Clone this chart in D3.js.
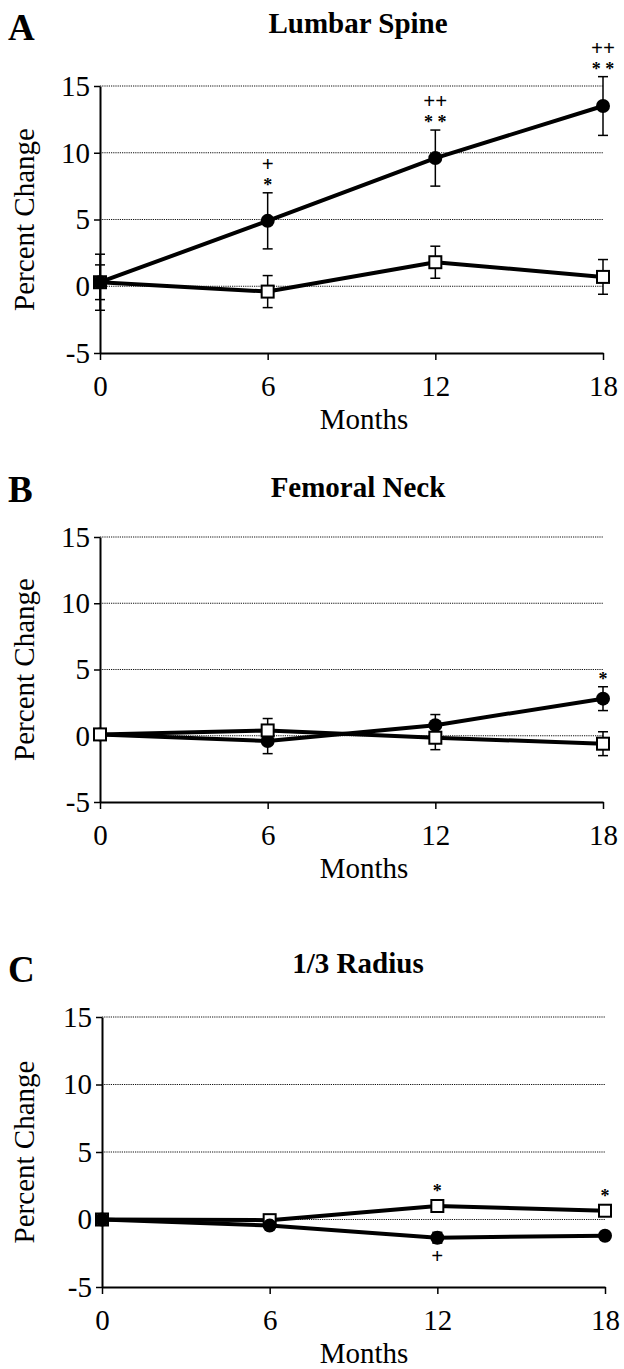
<!DOCTYPE html>
<html>
<head>
<meta charset="utf-8">
<script src="https://cdn.jsdelivr.net/npm/d3@7"></script>
<style>
  body { margin: 0; background: #fff; }
  svg { display: block; background: #fff; }
  text { font-family: "Liberation Serif", "DejaVu Serif", Times, serif; fill: #000; }
</style>
</head>
<body>
<svg id="fig" width="624" height="1369"></svg>
<script>
'use strict';

//#region data
const months = [0, 6, 12, 18];
const yTicks = [-5, 0, 5, 10, 15];
const gridValues = [0, 5, 10, 15];

// A - lumbar spine
const spineFilled    = [0.3, 4.9, 9.6, 13.5];
const spineFilledErr = [2.1, 2.1, 2.1, 2.2];
const spineOpen      = [0.3, -0.4, 1.8, 0.7];
const spineOpenErr   = [1.3, 1.2, 1.2, 1.3];
const spineMarks = [
  { i: 1, series: 'filled', side: 'above', lines: ['+', '*'] },
  { i: 2, series: 'filled', side: 'above', lines: ['++', '* *'] },
  { i: 3, series: 'filled', side: 'above', lines: ['++', '* *'] }
];

// B - femoral neck
const neckFilled    = [0.1, -0.4, 0.8, 2.8];
const neckFilledErr = [0, 0.95, 0.8, 0.9];
const neckOpen      = [0.1, 0.4, -0.15, -0.6];
const neckOpenErr   = [0, 0.9, 0.9, 0.9];
const neckMarks = [
  { i: 3, series: 'filled', side: 'above', lines: ['*'] }
];

// C - 1/3 radius
const radiusFilled    = [0.0, -0.45, -1.35, -1.2];
const radiusFilledErr = [0, 0.2, 0.4, 0.3];
const radiusOpen      = [0.0, -0.05, 1.0, 0.65];
const radiusOpenErr   = [0, 0.1, 0.2, 0.2];
const radiusMarks = [
  { i: 2, series: 'open', side: 'above', lines: ['*'] },
  { i: 3, series: 'open', side: 'above', lines: ['*'] },
  { i: 2, series: 'filled', side: 'below', lines: ['+'] }
];
//#endregion

const svg = d3.select('#fig');
const serif = '"Liberation Serif", "DejaVu Serif", Times, serif';

//panel layout (pixels)
const panels = [
  { letter: 'A', title: 'Lumbar Spine', left: 100, right: 603, top: 86, bottom: 353,
    letterY: 40, titleY: 33, filled: spineFilled, filledErr: spineFilledErr,
    open: spineOpen, openErr: spineOpenErr, marks: spineMarks, order: ['open', 'filled'] },
  { letter: 'B', title: 'Femoral Neck', left: 100, right: 603, top: 537, bottom: 802,
    letterY: 502, titleY: 497, filled: neckFilled, filledErr: neckFilledErr,
    open: neckOpen, openErr: neckOpenErr, marks: neckMarks, order: ['filled', 'open'] },
  { letter: 'C', title: '1/3 Radius', left: 102, right: 605, top: 1017, bottom: 1287,
    letterY: 982, titleY: 973, filled: radiusFilled, filledErr: radiusFilledErr,
    open: radiusOpen, openErr: radiusOpenErr, marks: radiusMarks, order: ['open', 'filled'] }
];

panels.forEach(drawPanel);

function drawPanel(p) {
  const g = svg.append('g');
  const x = d3.scaleLinear().domain([0, 18]).range([p.left, p.right]);
  const y = d3.scaleLinear().domain([-5, 15]).range([p.bottom, p.top]);

  //panel letter and title
  g.append('text').text(p.letter).attr('x', 8).attr('y', p.letterY)
    .style('font-family', serif).style('font-size', '37px').style('font-weight', 'bold');
  g.append('text').text(p.title).attr('x', 358).attr('y', p.titleY).attr('text-anchor', 'middle')
    .style('font-family', serif).style('font-size', '29px').style('font-weight', 'bold');

  //dotted gridlines
  g.selectAll('.grid').data(gridValues).join('line').attr('class', 'grid')
    .attr('x1', x(0)).attr('x2', x(18))
    .attr('y1', d => y(d)).attr('y2', d => y(d))
    .attr('stroke', '#111').attr('stroke-width', 1.2).attr('stroke-dasharray', '1.2,1');

  //axes
  const yAxis = d3.axisLeft(y).tickValues(yTicks).tickSize(6).tickSizeOuter(0).tickPadding(4)
    .tickFormat(d => String(d));
  const xAxis = d3.axisBottom(x).tickValues(months).tickSize(7).tickSizeOuter(0).tickPadding(15)
    .tickFormat(d => String(d));

  const ya = g.append('g').attr('transform', `translate(${x(0)},0)`).call(yAxis);
  const xa = g.append('g').attr('transform', `translate(0,${y(-5)})`).call(xAxis);
  [ya, xa].forEach(a => {
    a.attr('font-family', null).attr('font-size', null);
    a.select('.domain').attr('stroke', '#000').attr('stroke-width', 2);
    a.selectAll('.tick line').attr('stroke', '#000').attr('stroke-width', 1.5);
    a.selectAll('.tick text').attr('fill', '#000')
      .style('font-family', serif).style('font-size', '29px');
  });

  //axis titles
  g.append('text').text('Months').attr('x', 364).attr('y', p.bottom + 76).attr('text-anchor', 'middle')
    .style('font-family', serif).style('font-size', '29px');
  g.append('text').text('Percent Change')
    .attr('transform', `translate(34,${(p.top + p.bottom) / 2}) rotate(-90)`)
    .attr('text-anchor', 'middle').style('font-family', serif).style('font-size', '29px');

  const series = {
    filled: { vals: p.filled, err: p.filledErr },
    open: { vals: p.open, err: p.openErr }
  };

  const line = d3.line().x((d, i) => x(months[i])).y(d => y(d));

  //lines first, then error bars, then markers
  p.order.forEach(k => {
    g.append('path').datum(series[k].vals).attr('d', line)
      .attr('fill', 'none').attr('stroke', '#000').attr('stroke-width', 4).attr('stroke-linejoin', 'round');
  });

  p.order.forEach(k => {
    const s = series[k];
    const bars = s.vals.map((v, i) => ({ m: months[i], v: v, e: s.err[i] })).filter(d => d.e > 0);
    const eg = g.append('g').attr('stroke', '#000').attr('stroke-width', 1.5);
    eg.selectAll('.ev').data(bars).join('line')
      .attr('x1', d => x(d.m)).attr('x2', d => x(d.m))
      .attr('y1', d => y(d.v - d.e)).attr('y2', d => y(d.v + d.e));
    eg.selectAll('.ct').data(bars).join('line')
      .attr('x1', d => x(d.m) - 5).attr('x2', d => x(d.m) + 5)
      .attr('y1', d => y(d.v + d.e)).attr('y2', d => y(d.v + d.e));
    eg.selectAll('.cb').data(bars).join('line')
      .attr('x1', d => x(d.m) - 5).attr('x2', d => x(d.m) + 5)
      .attr('y1', d => y(d.v - d.e)).attr('y2', d => y(d.v - d.e));
  });

  p.order.forEach(k => {
    const pts = series[k].vals.map((v, i) => ({ m: months[i], v: v }));
    if (k === 'filled') {
      g.selectAll('.dot').data(pts).join('circle')
        .attr('cx', d => x(d.m)).attr('cy', d => y(d.v)).attr('r', 7).attr('fill', '#000');
    }
    else {
      g.selectAll('.sq').data(pts).join('rect')
        .attr('x', d => x(d.m) - 6).attr('y', d => y(d.v) - 6).attr('width', 12).attr('height', 12)
        .attr('fill', '#fff').attr('stroke', '#000').attr('stroke-width', 2);
    }
  });

  //significance marks
  p.marks.forEach(mk => {
    const s = series[mk.series];
    const v = s.vals[mk.i];
    const e = s.err[mk.i];
    const cx = x(months[mk.i]);
    if (mk.side === 'above') {
      let c = Math.min(y(v + e), y(v) - 7) - 11;
      for (let j = mk.lines.length - 1; j >= 0; j--) {
        addMark(g, mk.lines[j], cx, c);
        c -= 17;
      }
    }
    else {
      let c = Math.max(y(v - e), y(v) + 7) + 12;
      mk.lines.forEach(t => { addMark(g, t, cx, c); c += 17; });
    }
  });
}

function addMark(g, t, cx, cy) {
  const star = t.indexOf('*') >= 0;
  g.append('text').text(t).attr('x', cx).attr('y', star ? cy + 9 : cy + 6)
    .attr('text-anchor', 'middle')
    .style('font-family', serif)
    .style('font-size', star ? '18px' : '21px')
    .style('font-weight', 'bold')
    .style('white-space', 'pre');
}
</script>
</body>
</html>
